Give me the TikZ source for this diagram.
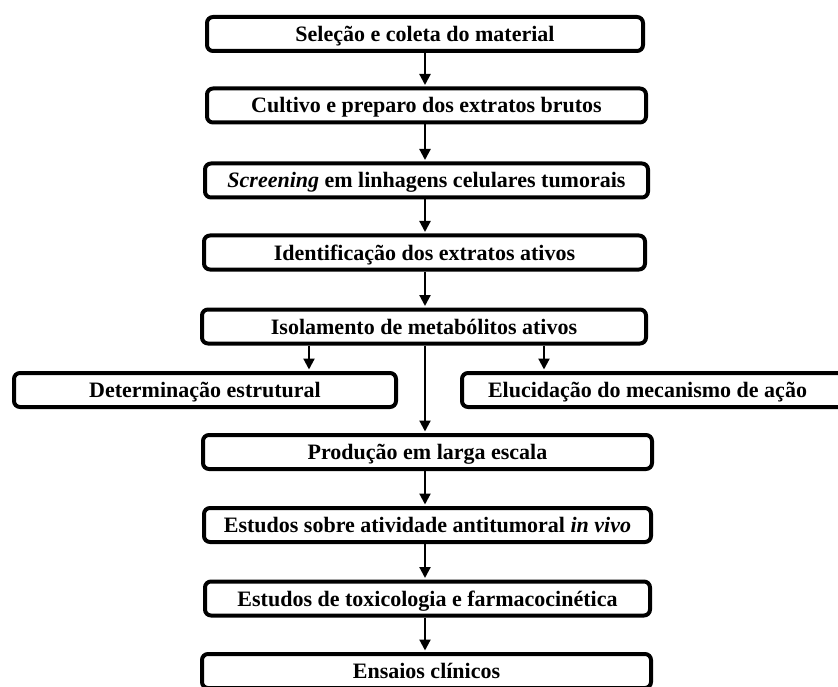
\documentclass[tikz,border=0pt]{standalone}
\usepackage{fontspec}
\setmainfont{Liberation Serif}
\usetikzlibrary{arrows.meta}
\tikzset{
  stepbox/.style={draw=black, line width=4pt, rounded corners=6pt, fill=white,
    inner sep=0pt, minimum height=34pt, align=center,
    font=\fontsize{22}{25}\selectfont\bfseries, text height=20pt, text depth=5pt},
  arr/.style={line width=2.2pt, -{Triangle[width=11pt,length=11pt]}, shorten >=1.5pt}
}
\begin{document}
\begin{tikzpicture}[x=1pt,y=-1pt]
\clip (0,0) rectangle (838,687);
\useasboundingbox (0,0) rectangle (838,687);
\node[stepbox, minimum width=436pt] (b1) at (425,34) {Seleção e coleta do material};
\node[stepbox, minimum width=439pt] (b2) at (426.5,105.5) {Cultivo e preparo dos extratos brutos};
\node[stepbox, minimum width=443pt] (b3) at (426.5,180.5) {\textit{Screening} em linhagens celulares tumorais};
\node[stepbox, minimum width=441pt] (b4) at (424.5,252.5) {Identificação dos extratos ativos};
\node[stepbox, minimum width=444pt] (b5) at (424,326.5) {Isolamento de metabólitos ativos};
\node[stepbox, minimum width=382pt] (bl) at (205,390) {Determinação estrutural};
\node[stepbox, minimum width=385pt] (br) at (654.5,390) {\hspace*{-14pt}Elucidação do mecanismo de ação};
\node[stepbox, minimum width=449pt] (b6) at (427.5,452) {Produção em larga escala};
\node[stepbox, minimum width=447pt] (b7) at (427.5,525) {Estudos sobre atividade antitumoral \textit{in vivo}};
\node[stepbox, minimum width=445pt] (b8) at (427.5,598.5) {Estudos de toxicologia e farmacocinética};
\node[stepbox, minimum width=449pt] (b9) at (426.5,671) {Ensaios clínicos};
\coordinate (c1) at (425,0);
\coordinate (cl) at (309,0);
\coordinate (cr) at (544,0);
\draw[arr] (b1.south -| c1) -- (b2.north -| c1);
\draw[arr] (b2.south -| c1) -- (b3.north -| c1);
\draw[arr] (b3.south -| c1) -- (b4.north -| c1);
\draw[arr] (b4.south -| c1) -- (b5.north -| c1);
\draw[arr] (b5.south -| cl) -- (bl.north -| cl);
\draw[arr] (b5.south -| cr) -- (br.north -| cr);
\draw[arr] (b5.south -| c1) -- (b6.north -| c1);
\draw[arr] (b6.south -| c1) -- (b7.north -| c1);
\draw[arr] (b7.south -| c1) -- (b8.north -| c1);
\draw[arr] (b8.south -| c1) -- (b9.north -| c1);
\end{tikzpicture}
\end{document}
